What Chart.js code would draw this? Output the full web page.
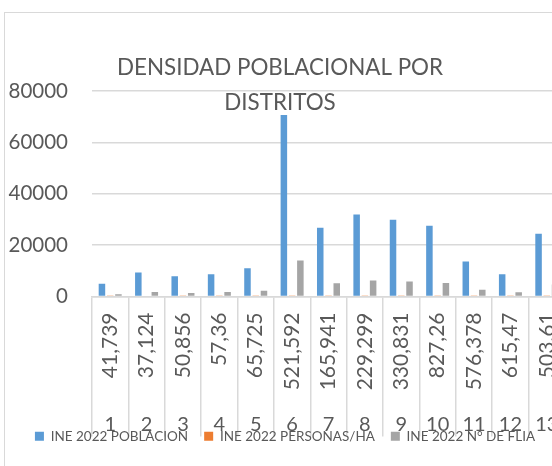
<!DOCTYPE html>
<html>
<head>
<meta charset="utf-8">
<script src="https://cdn.jsdelivr.net/npm/chart.js@4"></script>
<style>
  html, body { margin: 0; padding: 0; background: #fff; overflow: hidden; width: 552px; height: 466px; }
  #frame { position: absolute; left: 4px; top: 12px; width: 600px; height: 500px; border: 1px solid #d9d9d9; }
  #myChart { display: block; }
</style>
</head>
<body>
<div id="frame"><canvas id="myChart" width="575" height="453"></canvas></div>
<script>
// data
var titleLines = ['DENSIDAD POBLACIONAL POR', 'DISTRITOS'];
var districts = ['1', '2', '3', '4', '5', '6', '7', '8', '9', '10', '11', '12', '13'];
var areaLabels = ['41,739', '37,124', '50,856', '57,36', '65,725', '521,592', '165,941',
                  '229,299', '330,831', '827,26', '576,378', '615,47', '503,61'];
var poblacion = [5000, 9300, 7900, 8650, 11000, 70700, 26750, 31900, 29850, 27500, 13600, 8650, 24450];
var personasHa = [120, 250, 155, 151, 167, 136, 161, 139, 90, 33, 24, 14, 49];
var nFlia = [900, 1800, 1400, 1800, 2200, 14000, 5200, 6200, 5800, 5300, 2600, 1700, 4700];
var yTicks = [0, 20000, 40000, 60000, 80000];

var textColor = '#595959';
var gridColor = '#d9d9d9';
var fontFamily = 'Lato';

// title sits over the plot like in Excel
var titlePlugin = {
    id: 'excelTitle',
    afterDraw: function (chart) {
        var ctx = chart.ctx;
        ctx.save();
        ctx.font = '22.4px ' + fontFamily;
        ctx.fillStyle = textColor;
        ctx.textAlign = 'center';
        ctx.textBaseline = 'alphabetic';
        ctx.fillText(titleLines[0], 275, 62);
        ctx.fillText(titleLines[1], 275, 97);
        ctx.restore();
    }
};

var data = {
    labels: areaLabels,
    datasets: [
        {
            label: 'INE 2022 POBLACION',
            data: poblacion,
            backgroundColor: '#5b9bd5'
        },
        {
            label: 'INE 2022 PERSONAS/HA',
            data: personasHa,
            backgroundColor: '#ed7d31'
        },
        {
            label: 'INE 2022 N° DE FLIA',
            data: nFlia,
            backgroundColor: '#a5a5a5'
        }
    ]
};

var ctx = document.getElementById('myChart');
var myChart = new Chart(ctx, {
    type: 'bar',
    data: data,
    plugins: [titlePlugin],
    options: {
        responsive: false,
        animation: false,
        categoryPercentage: 0.68,
        barPercentage: 0.79,
        layout: { padding: { top: 78, right: 15, left: 0, bottom: 13 } },
        plugins: {
            title: { display: false },
            tooltip: { enabled: false },
            legend: {
                position: 'bottom',
                labels: {
                    boxWidth: 9,
                    boxHeight: 9,
                    padding: 16,
                    color: textColor,
                    font: { family: fontFamily, size: 13.5 }
                }
            }
        },
        scales: {
            x: {
                type: 'category',
                position: 'bottom',
                weight: 1,
                grid: { drawOnChartArea: false, offset: true, tickLength: 140, color: gridColor, lineWidth: 1.5 },
                border: { color: gridColor, width: 1.5, z: 1 },
                ticks: {
                    minRotation: 90, maxRotation: 90, autoSkip: false, padding: -124,
                    color: textColor, font: { family: fontFamily, size: 21 }
                },
                afterFit: function (s) { s.height = 95; s.paddingLeft = 0; s.paddingRight = 0; }
            },
            x2: {
                type: 'category',
                labels: districts,
                position: 'bottom',
                weight: 2,
                offset: true,
                grid: { display: false },
                border: { display: false },
                ticks: {
                    // mirrored so the labels are not clipped to the short box
                    autoSkip: false, maxRotation: 0, padding: -35, mirror: true,
                    color: textColor, font: { family: fontFamily, size: 20, lineHeight: 0.2 }
                },
                afterFit: function (s) { s.height = 22; s.paddingLeft = 0; s.paddingRight = 0; }
            },
            y: {
                min: 0,
                max: 80000,
                afterBuildTicks: function (s) {
                    s.ticks = yTicks.map(function (v) { return { value: v }; });
                },
                grid: { color: gridColor, lineWidth: 1.5, drawTicks: false },
                border: { display: false },
                ticks: {
                    padding: 24,
                    color: textColor,
                    font: { family: fontFamily, size: 20.5 },
                    callback: function (v) { return String(v); }
                },
                afterFit: function (s) { s.width = 87; }
            }
        }
    }
});
</script>
</body>
</html>
